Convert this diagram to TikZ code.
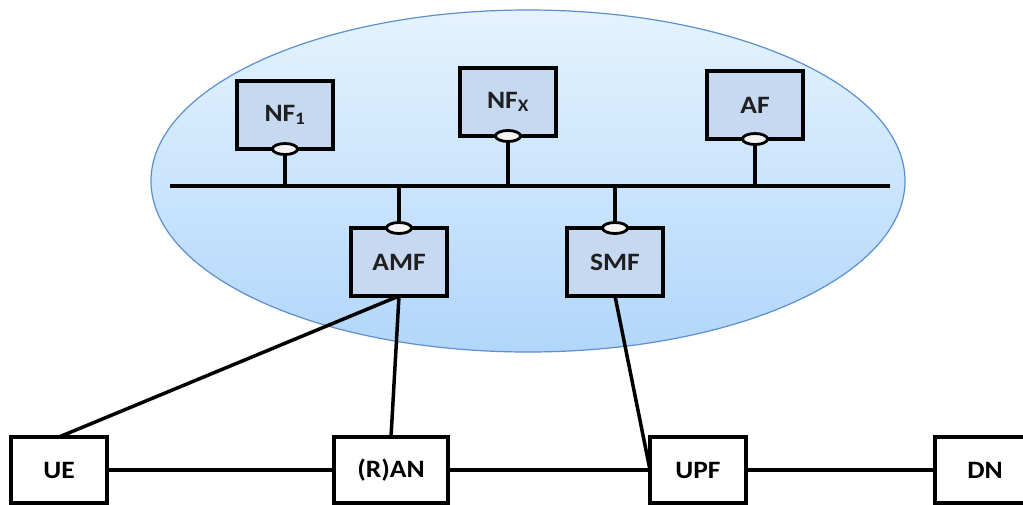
\documentclass[tikz,border=0pt]{standalone}
\usepackage{fontspec}
\newfontfamily\boxfont{Carlito}[FakeStretch=1.1]
\usetikzlibrary{shapes.geometric}
\definecolor{cloudtop}{HTML}{E4F3FE}
\definecolor{cloudbot}{HTML}{B2D6FA}
\definecolor{cloudline}{HTML}{5B8FD0}
\definecolor{nffill}{HTML}{C6D9F1}
\begin{document}
\begin{tikzpicture}[x=1pt,y=-1pt,inner sep=0pt,outer sep=0pt,
nfblock/.style={draw,rectangle,line width=3.8pt,fill=nffill,minimum width=96pt,minimum height=68pt,
  font=\boxfont\bfseries\fontsize{25}{29}\selectfont,text=black!88},
endblock/.style={nfblock,fill=white,minimum height=66pt,text=black},
port/.style={draw,ellipse,line width=2.8pt,fill=white!92!gray,minimum width=25pt,minimum height=11pt},
link/.style={line width=3.5pt}]
\useasboundingbox (0,0) rectangle (1023,504);
\draw[cloudline,line width=1.2pt,top color=cloudtop,bottom color=cloudbot] (528,181) ellipse [x radius=377, y radius=171];
\coordinate (busL) at (170,186);
\coordinate (busR) at (890,186);
\draw[line width=4pt] (busL) -- (busR);
\draw (285,115) node[nfblock] (nf1) {NF\textsubscript{1}};
\draw (508,102) node[nfblock] (nfx) {NF\textsubscript{X}};
\draw (755,105) node[nfblock] (af) {AF};
\draw (399,262) node[nfblock] (amf) {AMF};
\draw (615,262) node[nfblock] (smf) {SMF};
\draw (nf1.south) node[port] (nf1p) {};
\draw (nfx.south) node[port] (nfxp) {};
\draw (af.south) node[port] (afp) {};
\draw (amf.north) node[port] (amfp) {};
\draw (smf.north) node[port] (smfp) {};
\draw[link] (nf1p.south) -- (nf1p.south |- busL);
\draw[link] (nfxp.south) -- (nfxp.south |- busL);
\draw[link] (afp.south) -- (afp.south |- busL);
\draw[link] (amfp.north) -- (amfp.north |- busL);
\draw[link] (smfp.north) -- (smfp.north |- busL);
\draw (59,470) node[endblock] (ue) {UE};
\draw (391,470) node[endblock,minimum width=114pt] (ran) {(R)AN};
\draw (698,470) node[endblock] (upf) {UPF};
\draw (985,470) node[endblock,minimum width=100pt] (dn) {DN};
\draw[link] (ue.east) -- (ran.west);
\draw[link] (ran.east) -- (upf.west);
\draw[link] (upf.east) -- (dn.west);
\draw[link] (amf.south) -- (ue.north);
\draw[link] (amf.south) -- (ran.north);
\draw[link] (smf.south) -- (upf.west);
\end{tikzpicture}
\end{document}
